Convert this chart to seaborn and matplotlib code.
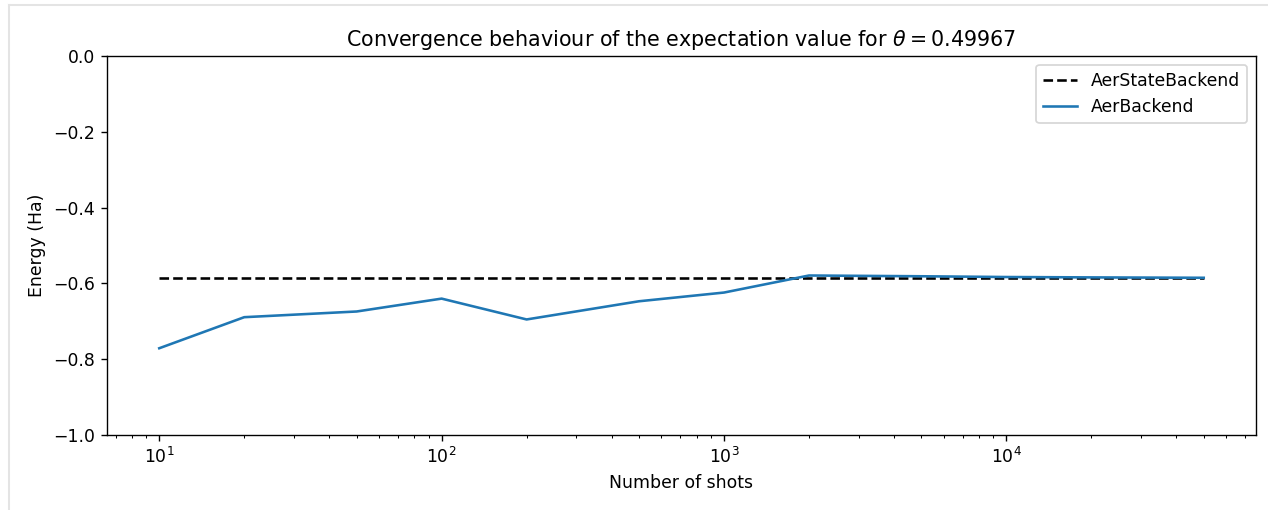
import numpy as np
import pandas as pd
import seaborn as sns
import matplotlib.pyplot as plt
from matplotlib.lines import Line2D

shots = [10, 20, 50, 100, 200, 500, 1000, 2000, 5000, 10000, 20000, 50000]
aer_energy = [-0.771, -0.689, -0.674, -0.640, -0.695, -0.647, -0.624, -0.579,
              -0.581, -0.583, -0.584, -0.585]
state_energy = -0.5855
theta = 0.49967

df = pd.DataFrame({'shots': shots, 'energy': aer_energy})
df_exact = pd.DataFrame({'shots': shots, 'energy': [state_energy] * len(shots)})

dpi = 124
W, H = 1268, 510
fig = plt.figure(figsize=(W / dpi, H / dpi), dpi=dpi)
ax = fig.add_axes([0.0844, 0.147, 0.9061, 0.743])

# faint notebook output frame (top and left edges)
fig.add_artist(Line2D([8.5 / W, 8.5 / W], [0, 1 - 5.5 / H], transform=fig.transFigure,
                      color='#e4e4e4', lw=1.2))
fig.add_artist(Line2D([8.5 / W, 1], [1 - 5.5 / H, 1 - 5.5 / H], transform=fig.transFigure,
                      color='#e4e4e4', lw=1.2))

sns.lineplot(data=df_exact, x='shots', y='energy', color='black', linestyle='--',
             label='AerStateBackend', ax=ax)
sns.lineplot(data=df, x='shots', y='energy', color='#1f77b4',
             label='AerBackend', ax=ax)

ax.set_xscale('log')
ax.set_ylim(-1.0, 0.0)
ax.set_xlabel('Number of shots')
ax.set_ylabel('Energy (Ha)')
ax.set_title(r'Convergence behaviour of the expectation value for $\theta = $' + f'{theta}')
ax.legend(loc='upper right')

plt.savefig('out.png', dpi=dpi)
